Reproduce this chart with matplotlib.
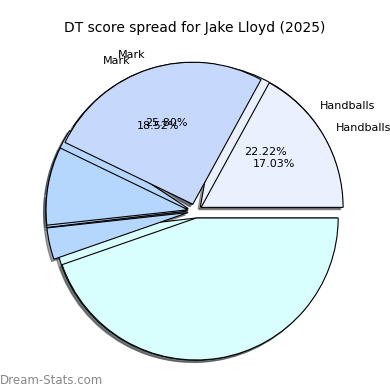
import matplotlib
matplotlib.use("Agg")
import matplotlib.pyplot as plt

# Data (two overlapping pies)
categories = ["Handballs", "Mark", "Tackle", "Other", "Kick"]
shown_labels = ["Handballs", "Mark", "", "", ""]
values_a = [22.22, 18.52, 7.41, 3.70, 48.15]
values_b = [17.03, 25.80, 8.90, 3.60, 44.67]
colors = ["#eaf0fe", "#c6d9fd", "#b6d7fd", "#b6d7fd", "#d8fefe"]
explode = [0.05, 0.05, 0.05, 0.05, 0.05]

title = "DT score spread for Jake Lloyd (2025)"
watermark = "Dream-Stats.com"

fig = plt.figure(figsize=(3.9, 3.9), dpi=100)
W = H = 390.0
ax_size = 355.0
cx, cy = 195.0, 211.0
ax = fig.add_axes([(cx - ax_size / 2) / W, 1 - (cy + ax_size / 2) / H,
                   ax_size / W, ax_size / H])


def make_autopct(labels, vals):
    idx = {"i": 0}
    def f(p):
        i = idx["i"]
        idx["i"] += 1
        return f"{p:.2f}%" if labels[i] else ""
    return f


for vals in (values_a, values_b):
    ax.pie(vals, labels=shown_labels, colors=colors, explode=explode,
           shadow={"ox": -0.012, "oy": -0.012},
           startangle=0,
           autopct=make_autopct(shown_labels, vals),
           wedgeprops={"edgecolor": "black", "linewidth": 0.8},
           textprops={"fontsize": 8})

ax.set_xlim(-1.25, 1.25)
ax.set_ylim(-1.25, 1.25)
ax.set_aspect("equal")

fig.text(0.5, 1 - 32 / H, title, ha="center", va="baseline", fontsize=10)
fig.text(0.0, 1 - 384 / H, watermark, ha="left", va="baseline",
         fontsize=8.5, color="#888888")

fig.savefig("out.png", dpi=100)
